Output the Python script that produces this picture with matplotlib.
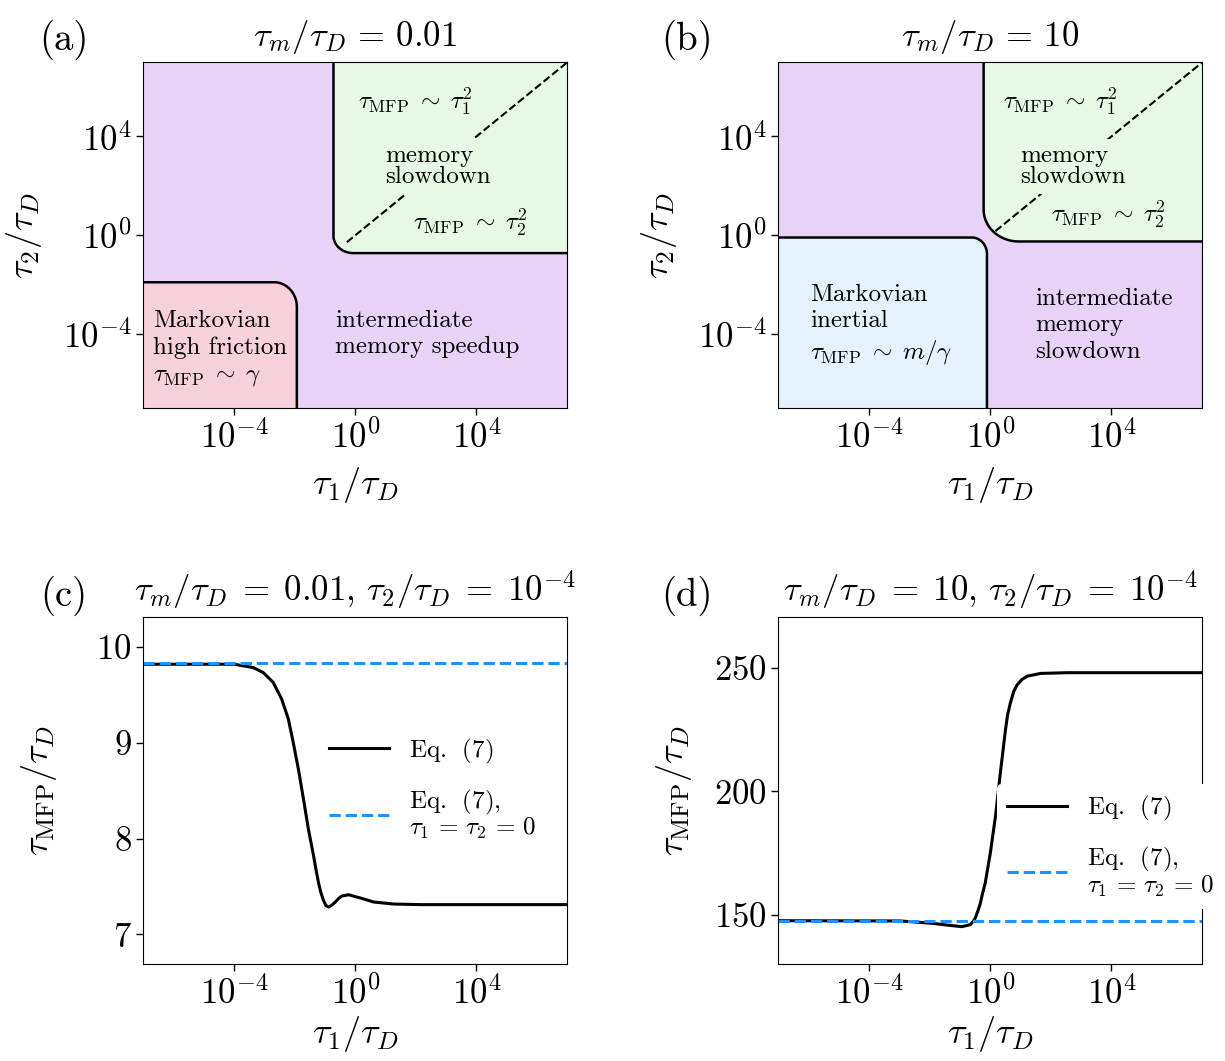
import numpy as np
import matplotlib.pyplot as plt
from matplotlib.ticker import NullLocator

plt.rcParams.update({
    'font.family': 'serif',
    'font.serif': ['cmr10'],
    'mathtext.fontset': 'cm',
    'axes.formatter.use_mathtext': True,
    'axes.unicode_minus': False,
})

# ---- data (log10 of tau/tau_D) ----
log_lim = 7
log_ticks = [-4, 0, 4]

# phase diagram corners (log10 tau1, log10 tau2) and rounding (decades)
markov_a = (-1.93, -1.90)
markov_a_round = (0.75, 1.0)
memory_a = (-0.72, -0.72)
memory_a_round = (0.66, 0.69)
markov_b = (-0.11, -0.09)
markov_b_round = (0.5, 0.67)
memory_b = (-0.22, -0.25)
memory_b_round = (1.16, 1.29)
diag_start_a = -0.28
diag_start_b = 0.17

# panel (c): tau_m/tau_D = 0.01, tau_2/tau_D = 1e-4
c_log_tau1 = [-7, -4.0, -3.37, -3.04, -2.71, -2.43, -2.21, -2.05, -1.88, -1.71,
              -1.55, -1.38, -1.30, -1.22, -1.14, -1.05, -0.97, -0.88, -0.77,
              -0.66, -0.55, -0.44, -0.22, 0.17, 0.61, 1.27, 2.15, 7]
c_tmfp = [9.82, 9.82, 9.785, 9.733, 9.63, 9.455, 9.247, 9.004, 8.726, 8.41,
          8.10, 7.823, 7.68, 7.545, 7.44, 7.354, 7.30, 7.285, 7.305,
          7.337, 7.375, 7.40, 7.413, 7.379, 7.337, 7.316, 7.31, 7.31]
c_markov = 9.837

# panel (d): tau_m/tau_D = 10, tau_2/tau_D = 1e-4
d_log_tau1 = [-7, -2.98, -2.5, -1.88, -1.33, -0.94, -0.66, -0.57, -0.50, -0.42,
              -0.33, -0.26, -0.17, 0.0, 0.17, 0.33, 0.50, 0.57, 0.66, 0.77,
              0.88, 1.05, 1.22, 1.66, 2.54, 7]
d_tmfp = [147.7, 147.6, 147.2, 146.6, 145.8, 145.3, 146.1, 147.3, 148.7, 151.3,
          154.7, 158.5, 162.8, 175.0, 189.8, 207.3, 224.8, 230.9, 235.6, 240.3,
          243.0, 245.3, 246.6, 247.7, 248.0, 248.0]
d_markov = 147.7

purple = '#e6d3f7'
pink = '#f6d0da'
green = '#e6f9e6'
blue = '#e4f2fb'
dblue = '#1e90ff'

eq_label = r'Eq.$\;\;\,$(7)'
eq0_label = r'Eq.$\;\;\,$(7),' + '\n' + r'$\tau_1\,=\,\tau_2\,=\,0$'


def corner_region(corner, rnd, sx, sy, lim=8):
    u0, v0 = corner
    rx, ry = rnd
    cu, cv = u0 + sx * rx, v0 + sy * ry
    t = np.linspace(0, np.pi / 2, 60)
    bu = np.concatenate([[u0], cu - sx * rx * np.cos(t), [sx * lim]])
    bv = np.concatenate([[sy * lim], cv - sy * ry * np.sin(t), [v0]])
    pu = np.append(bu, sx * lim)
    pv = np.append(bv, sy * lim)
    return bu, bv, pu, pv


def setup_log_x(ax, pad):
    ax.set_xscale('log')
    ax.set_xlim(10.0 ** -log_lim, 10.0 ** log_lim)
    ax.set_xticks([10.0 ** k for k in log_ticks])
    ax.xaxis.set_minor_locator(NullLocator())
    ax.set_xlabel(r'$\tau_1/\tau_D$', fontsize=26, labelpad=pad)
    ax.tick_params(labelsize=25, length=5, width=1)


def phase_panel(ax, markov, markov_round, markov_color, memory, memory_round, diag0):
    ax.set_facecolor(purple)
    for corner, rnd, s, col in [(markov, markov_round, -1, markov_color),
                                (memory, memory_round, 1, green)]:
        bu, bv, pu, pv = corner_region(corner, rnd, s, s)
        ax.fill(10.0 ** pu, 10.0 ** pv, color=col, lw=0)
        ax.plot(10.0 ** bu, 10.0 ** bv, color='k', lw=1.8)
    ax.plot([10.0 ** diag0, 10.0 ** log_lim], [10.0 ** diag0, 10.0 ** log_lim],
            'k--', lw=1.5)
    setup_log_x(ax, 7)
    ax.set_yscale('log')
    ax.set_ylim(10.0 ** -log_lim, 10.0 ** log_lim)
    ax.set_yticks([10.0 ** k for k in log_ticks])
    ax.yaxis.set_minor_locator(NullLocator())
    ax.set_ylabel(r'$\tau_2/\tau_D$', fontsize=26)
    ax.yaxis.set_label_coords(-0.235, 0.5)


def txt(ax, u, v, s, **kw):
    kw.setdefault('fontsize', 18)
    ax.text(10.0 ** u, 10.0 ** v, s, **kw)


fig = plt.figure(figsize=(12.25, 10.61), dpi=100)
W, H = 1225, 1061
def add_ax(x0, y0, x1, y1):
    return fig.add_axes([x0 / W, 1 - y1 / H, (x1 - x0) / W, (y1 - y0) / H])

ax_a = add_ax(143.3, 62.3, 567.3, 408.3)
ax_b = add_ax(778.3, 62.3, 1202.3, 408.3)
ax_c = add_ax(143.3, 617.3, 567.3, 964.0)
ax_d = add_ax(778.3, 617.3, 1202.3, 964.0)

# (a)
phase_panel(ax_a, markov_a, markov_a_round, pink, memory_a, memory_a_round, diag_start_a)
txt(ax_a, 1.99, 5.39, r'$\tau_{\rm MFP}\;\sim\;\tau_1^2$', ha='center', va='center')
txt(ax_a, 0.99, 2.78, 'memory\nslowdown', ha='left', va='center', linespacing=0.95,
    bbox=dict(facecolor=green, edgecolor='none', pad=4))
txt(ax_a, 3.81, 0.51, r'$\tau_{\rm MFP}\;\sim\;\tau_2^2$', ha='center', va='center')
txt(ax_a, -6.68, -4.6, 'Markovian\nhigh friction\n' + r'$\tau_{\rm MFP}\;\sim\;\gamma$',
    ha='left', va='center', linespacing=1.25)
txt(ax_a, -0.66, -4.0, 'intermediate\nmemory speedup', ha='left', va='center',
    linespacing=1.25)
ax_a.set_title(r'$\tau_m/\tau_D\,=\,0.01$', fontsize=25, pad=12)

# (b)
phase_panel(ax_b, markov_b, markov_b_round, blue, memory_b, memory_b_round, diag_start_b)
txt(ax_b, 2.32, 5.39, r'$\tau_{\rm MFP}\;\sim\;\tau_1^2$', ha='center', va='center')
txt(ax_b, 0.99, 2.78, 'memory\nslowdown', ha='left', va='center', linespacing=0.95,
    bbox=dict(facecolor=green, edgecolor='none', pad=4))
txt(ax_b, 3.89, 0.84, r'$\tau_{\rm MFP}\;\sim\;\tau_2^2$', ha='center', va='center')
txt(ax_b, -5.96, -3.64, 'Markovian\ninertial\n' + r'$\tau_{\rm MFP}\;\sim\;m/\gamma$',
    ha='left', va='center', linespacing=1.25)
txt(ax_b, 1.49, -3.64, 'intermediate\nmemory\nslowdown', ha='left', va='center',
    linespacing=1.25)
ax_b.set_title(r'$\tau_m/\tau_D\,=\,10$', fontsize=25, pad=12)

# (c)
ax_c.plot(10.0 ** np.array(c_log_tau1), c_tmfp, color='k', lw=2.2, label=eq_label)
ax_c.axhline(c_markov, color=dblue, ls='--', lw=2.2, label=eq0_label)
setup_log_x(ax_c, 2)
ax_c.set_ylim(6.69, 10.31)
ax_c.set_yticks([7, 8, 9, 10])
ax_c.set_ylabel(r'$\tau_{\rm MFP}/\tau_D$', fontsize=26)
ax_c.yaxis.set_label_coords(-0.2, 0.5)
ax_c.set_title(r'$\tau_m/\tau_D\;=\;0.01$, $\tau_2/\tau_D\;=\;10^{-4}$', fontsize=25, pad=12)
leg = ax_c.legend(loc='upper left', bbox_to_anchor=(0.415, 0.685), fontsize=18,
                  frameon=False, handlelength=2.4, borderaxespad=0, labelspacing=0.9)
for t in leg.get_texts():
    t.set_linespacing(0.95)

# (d)
ax_d.plot(10.0 ** np.array(d_log_tau1), d_tmfp, color='k', lw=2.2, label=eq_label)
ax_d.axhline(d_markov, color=dblue, ls='--', lw=2.2, label=eq0_label)
setup_log_x(ax_d, 2)
ax_d.set_ylim(130.2, 270.4)
ax_d.set_yticks([150, 200, 250])
ax_d.set_ylabel(r'$\tau_{\rm MFP}/\tau_D$', fontsize=26)
ax_d.yaxis.set_label_coords(-0.2, 0.5)
ax_d.set_title(r'$\tau_m/\tau_D\;=\;10$, $\tau_2/\tau_D\;=\;10^{-4}$', fontsize=25, pad=12)
leg = ax_d.legend(loc='upper left', bbox_to_anchor=(0.515, 0.52), fontsize=18,
                  framealpha=1, facecolor='white', edgecolor='none',
                  handlelength=2.4, borderaxespad=0, labelspacing=0.9)
for t in leg.get_texts():
    t.set_linespacing(0.95)

for lab, x, y in [('(a)', 64, 40), ('(b)', 687, 40), ('(c)', 64, 596), ('(d)', 687, 596)]:
    fig.text(x / W, 1 - y / H, lab, fontsize=28, ha='center', va='center')

fig.savefig('out.png', dpi=100)
